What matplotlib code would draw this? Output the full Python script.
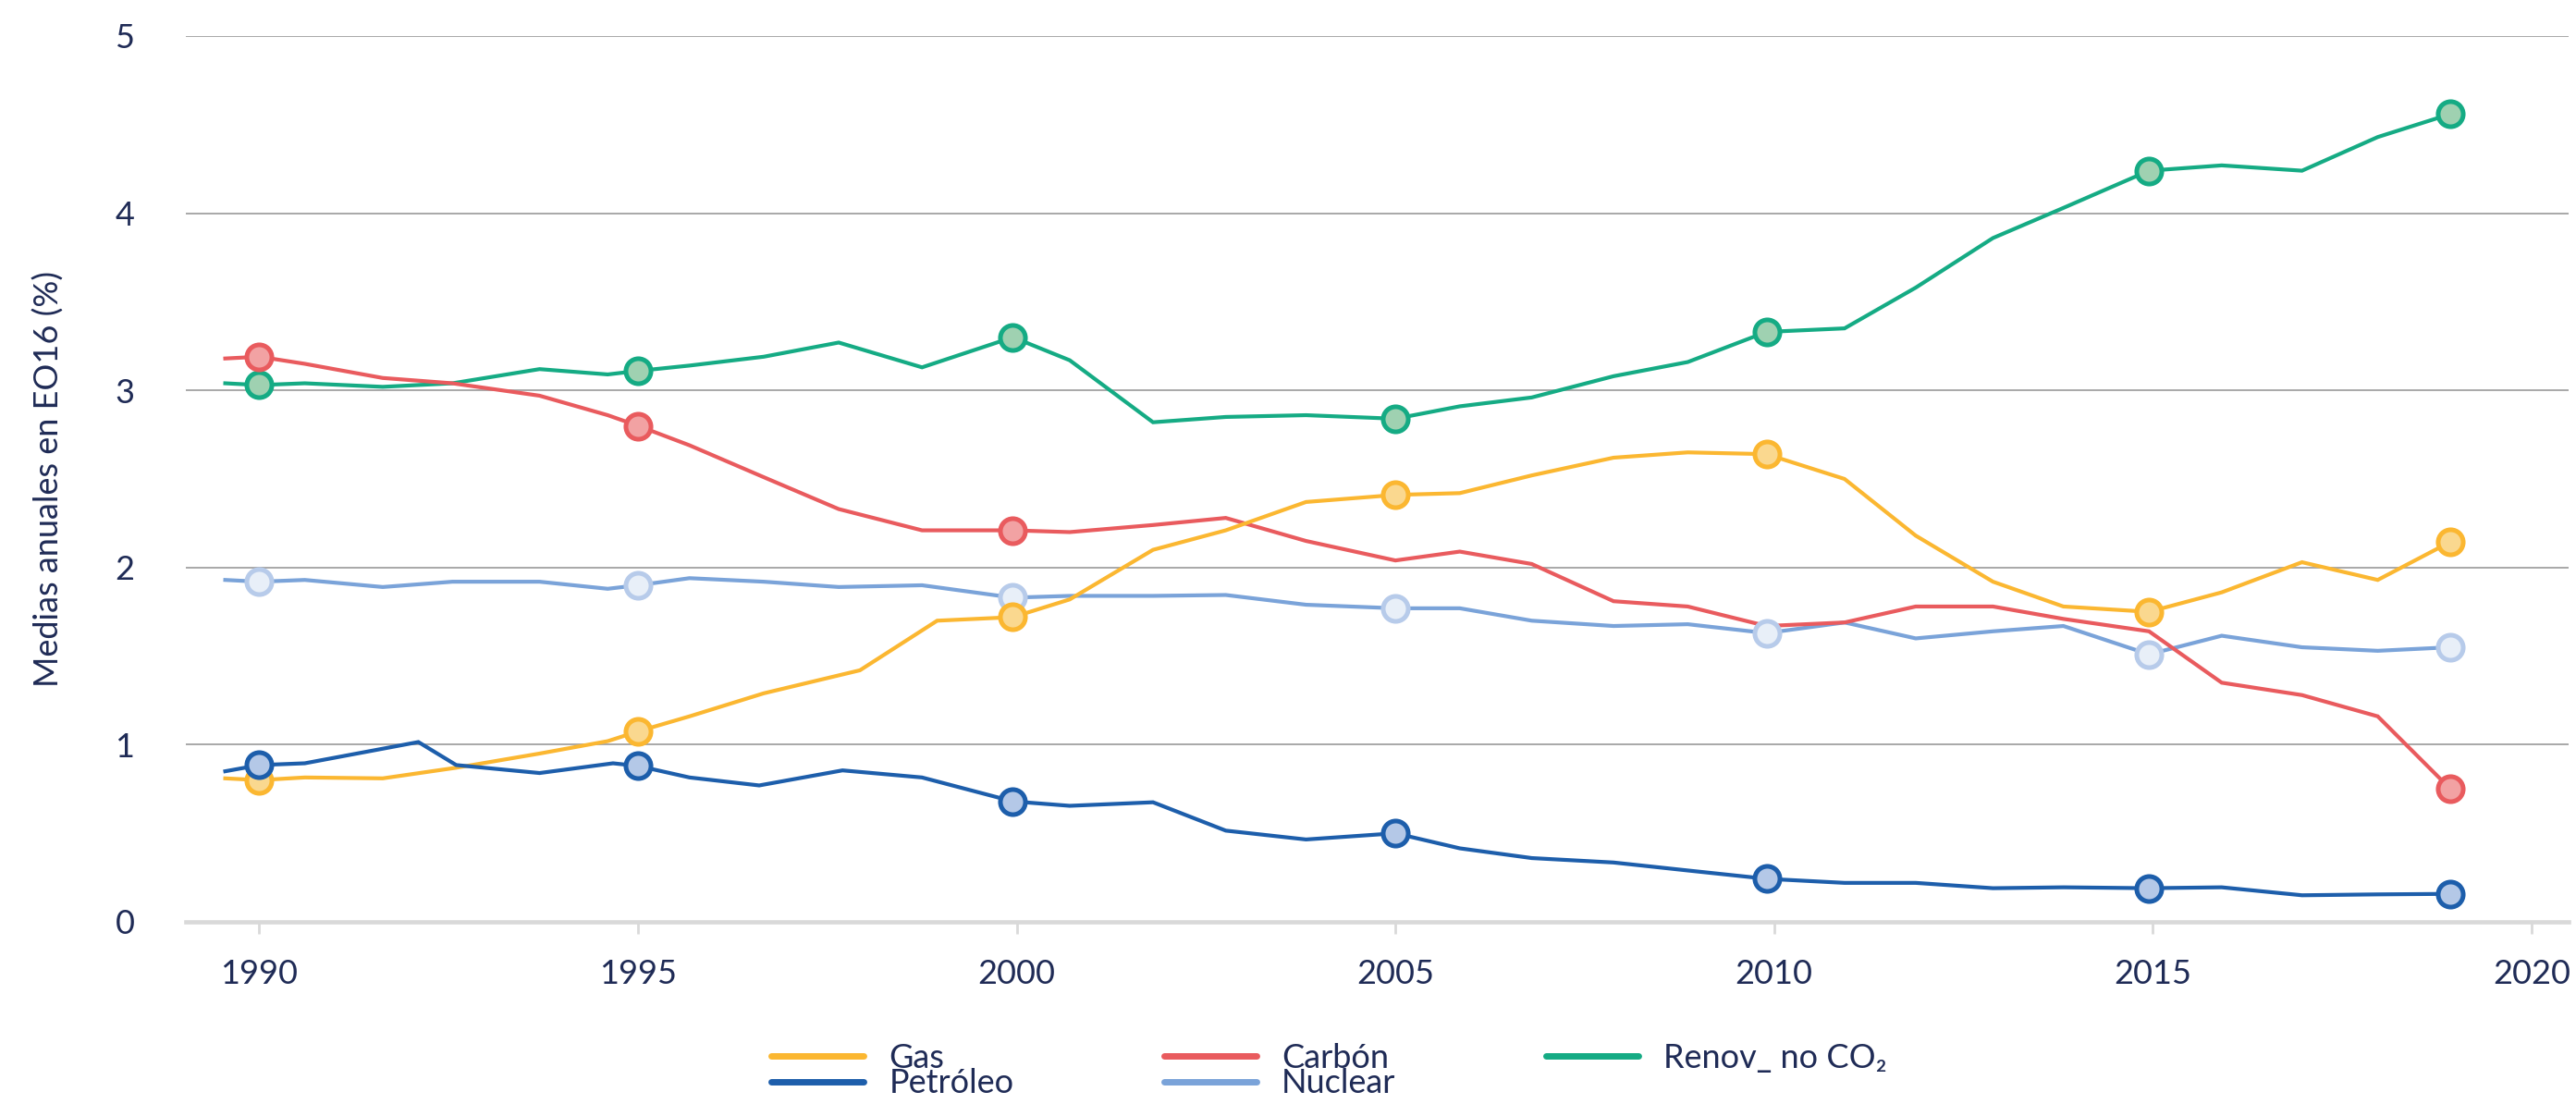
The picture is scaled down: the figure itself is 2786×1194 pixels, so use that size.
import numpy as np
import matplotlib
matplotlib.use("Agg")
import matplotlib.pyplot as plt

plt.rcParams['font.family'] = ['Lato', 'DejaVu Sans']

# ---------------- data ----------------
x_comun = [1989.55, 1990.0, 1990.6, 1991.63, 1992.55, 1993.7, 1994.6, 1995.0, 1995.68,
           1996.66, 1997.65, 1998.75, 1999.95, 2000.7, 2001.8, 2002.76, 2003.82, 2005.0,
           2005.85, 2006.8, 2007.88, 2008.86, 2009.9, 2010.93, 2011.87, 2012.89, 2013.82,
           2014.95, 2015.91, 2016.97, 2017.97, 2018.93]
x_gas = [1989.55, 1990.0, 1990.6, 1991.63, 1992.6, 1993.7, 1994.6, 1995.0, 1995.68,
         1996.66, 1997.93, 1998.95, 1999.95, 2000.7, 2001.8, 2002.76, 2003.82, 2005.0,
         2005.85, 2006.8, 2007.88, 2008.86, 2009.9, 2010.93, 2011.87, 2012.89, 2013.82,
         2014.95, 2015.91, 2016.97, 2017.97, 2018.93]
x_petroleo = [1989.55, 1990.0, 1990.6, 1992.1, 1992.6, 1993.7, 1994.67, 1995.0, 1995.68,
              1996.6, 1997.7, 1998.75, 1999.95, 2000.7, 2001.8, 2002.76, 2003.82, 2005.0,
              2005.85, 2006.8, 2007.88, 2008.86, 2009.9, 2010.93, 2011.87, 2012.89, 2013.82,
              2014.95, 2015.91, 2016.97, 2017.97, 2018.93]

gas = [0.81, 0.80, 0.815, 0.81, 0.87, 0.95, 1.02, 1.075, 1.16, 1.29, 1.42, 1.70, 1.72,
       1.82, 2.10, 2.21, 2.37, 2.41, 2.42, 2.52, 2.62, 2.65, 2.64, 2.50, 2.18, 1.92, 1.78,
       1.75, 1.86, 2.03, 1.93, 2.145]
petroleo = [0.85, 0.885, 0.895, 1.015, 0.885, 0.84, 0.895, 0.88, 0.815, 0.77, 0.855, 0.815,
            0.68, 0.655, 0.675, 0.515, 0.465, 0.50, 0.415, 0.36, 0.335, 0.29, 0.243, 0.22,
            0.22, 0.19, 0.195, 0.19, 0.195, 0.15, 0.155, 0.158]
carbon = [3.18, 3.19, 3.15, 3.07, 3.04, 2.97, 2.86, 2.80, 2.69, 2.51, 2.33, 2.21, 2.21,
          2.20, 2.24, 2.28, 2.15, 2.04, 2.09, 2.02, 1.81, 1.78, 1.67, 1.69, 1.78, 1.78,
          1.71, 1.64, 1.35, 1.28, 1.16, 0.75]
nuclear = [1.93, 1.92, 1.93, 1.89, 1.92, 1.92, 1.88, 1.90, 1.94, 1.92, 1.89, 1.90, 1.83,
           1.84, 1.84, 1.845, 1.79, 1.77, 1.77, 1.70, 1.67, 1.68, 1.63, 1.69, 1.60, 1.64,
           1.67, 1.51, 1.615, 1.55, 1.53, 1.55]
renov = [3.04, 3.03, 3.04, 3.02, 3.04, 3.12, 3.09, 3.11, 3.14, 3.19, 3.27, 3.13, 3.30,
         3.17, 2.82, 2.85, 2.86, 2.84, 2.91, 2.96, 3.08, 3.16, 3.33, 3.35, 3.58, 3.86,
         4.03, 4.24, 4.27, 4.24, 4.43, 4.56]

marcas_todas = [1990.0, 1995.0, 1999.95, 2005.0, 2009.9, 2014.95, 2018.93]
marcas_carbon = [1990.0, 1995.0, 1999.95, 2018.93]

etiquetas = ["Gas", "Petróleo", "Carbón", "Nuclear", "Renov_ no CO\u2082"]
x_ticks = [1990, 1995, 2000, 2005, 2010, 2015, 2020]
y_ticks = [0, 1, 2, 3, 4, 5]

# ---------------- style ----------------
TXT = '#1F2B56'
series = [
    # label, x, y, line colour, marker edge, marker fill, marker years, zorder
    ("Nuclear", x_comun, nuclear, '#7AA3D9', '#B7CBEA', '#E8EFF8', marcas_todas, 3),
    ("Renov_ no CO\u2082", x_comun, renov, '#15AB84', '#15AB84', '#9FD1B1', marcas_todas, 4),
    ("Carbón", x_comun, carbon, '#E95B5E', '#E95B5E', '#F2A2A3', marcas_carbon, 5),
    ("Gas", x_gas, gas, '#FBB731', '#FBB731', '#FAD88F', marcas_todas, 6),
    ("Petróleo", x_petroleo, petroleo, '#1D5EAB', '#1D5EAB', '#B4C8E7', marcas_todas, 7),
]

fig = plt.figure(figsize=(27.86, 11.94), dpi=100)
ax = fig.add_axes([201 / 2786, 1 - 997 / 1194, (2778 - 201) / 2786, (997 - 39) / 1194])

handles = {}
for lab, xs, ys, lc, me, mf, mk, z in series:
    xs = np.asarray(xs)
    ys = np.asarray(ys)
    idx = np.where(np.isin(xs, mk))[0].tolist()
    ln, = ax.plot(xs, ys, color=lc, lw=3.0, zorder=z, solid_joinstyle='miter')
    ax.plot(xs[idx], ys[idx], ls='none', marker='o', ms=19.5, mew=3.6,
            mec=me, mfc=mf, zorder=z + 10)
    handles[lab] = ln

ax.set_xlim(1989.03, 2020.49)
ax.set_ylim(0, 5)
ax.set_xticks(x_ticks)
ax.set_yticks(y_ticks)
ax.set_xticklabels([str(t) for t in x_ticks])
ax.set_yticklabels([str(t) for t in y_ticks])

ax.grid(axis='y', color='#A8A8A8', lw=1.4, zorder=0)
ax.set_axisbelow(True)
for s in ['top', 'right', 'left']:
    ax.spines[s].set_visible(False)
ax.spines['bottom'].set_color('#D9D9D9')
ax.spines['bottom'].set_linewidth(3.3)
ax.spines['bottom'].set_zorder(1)

ax.tick_params(axis='y', length=0, pad=40, labelsize=26, labelcolor=TXT)
ax.tick_params(axis='x', length=9, width=2, color='#D9D9D9', pad=20,
               labelsize=26, labelcolor=TXT)

fig.text(53 / 2786, 1 - 518 / 1194, "Medias anuales en EO16 (%)", rotation=90,
         ha='center', va='center', fontsize=26, color=TXT)

orden = ["Gas", "Petróleo", "Carbón", "Nuclear", "Renov_ no CO\u2082"]
leg_handles = []
for lab in orden:
    h = plt.Line2D([], [], color=handles[lab].get_color(), lw=5, solid_capstyle='round')
    leg_handles.append(h)
leg = fig.legend(leg_handles, etiquetas, loc='center left', bbox_to_anchor=(0.293, 0.030),
                 ncol=3, frameon=False, fontsize=26, handlelength=2.77,
                 handletextpad=0.75, columnspacing=4.5, labelspacing=-0.15,
                 borderpad=0)
for t in leg.get_texts():
    t.set_color(TXT)

fig.savefig("out.png", dpi=100, facecolor='white')
